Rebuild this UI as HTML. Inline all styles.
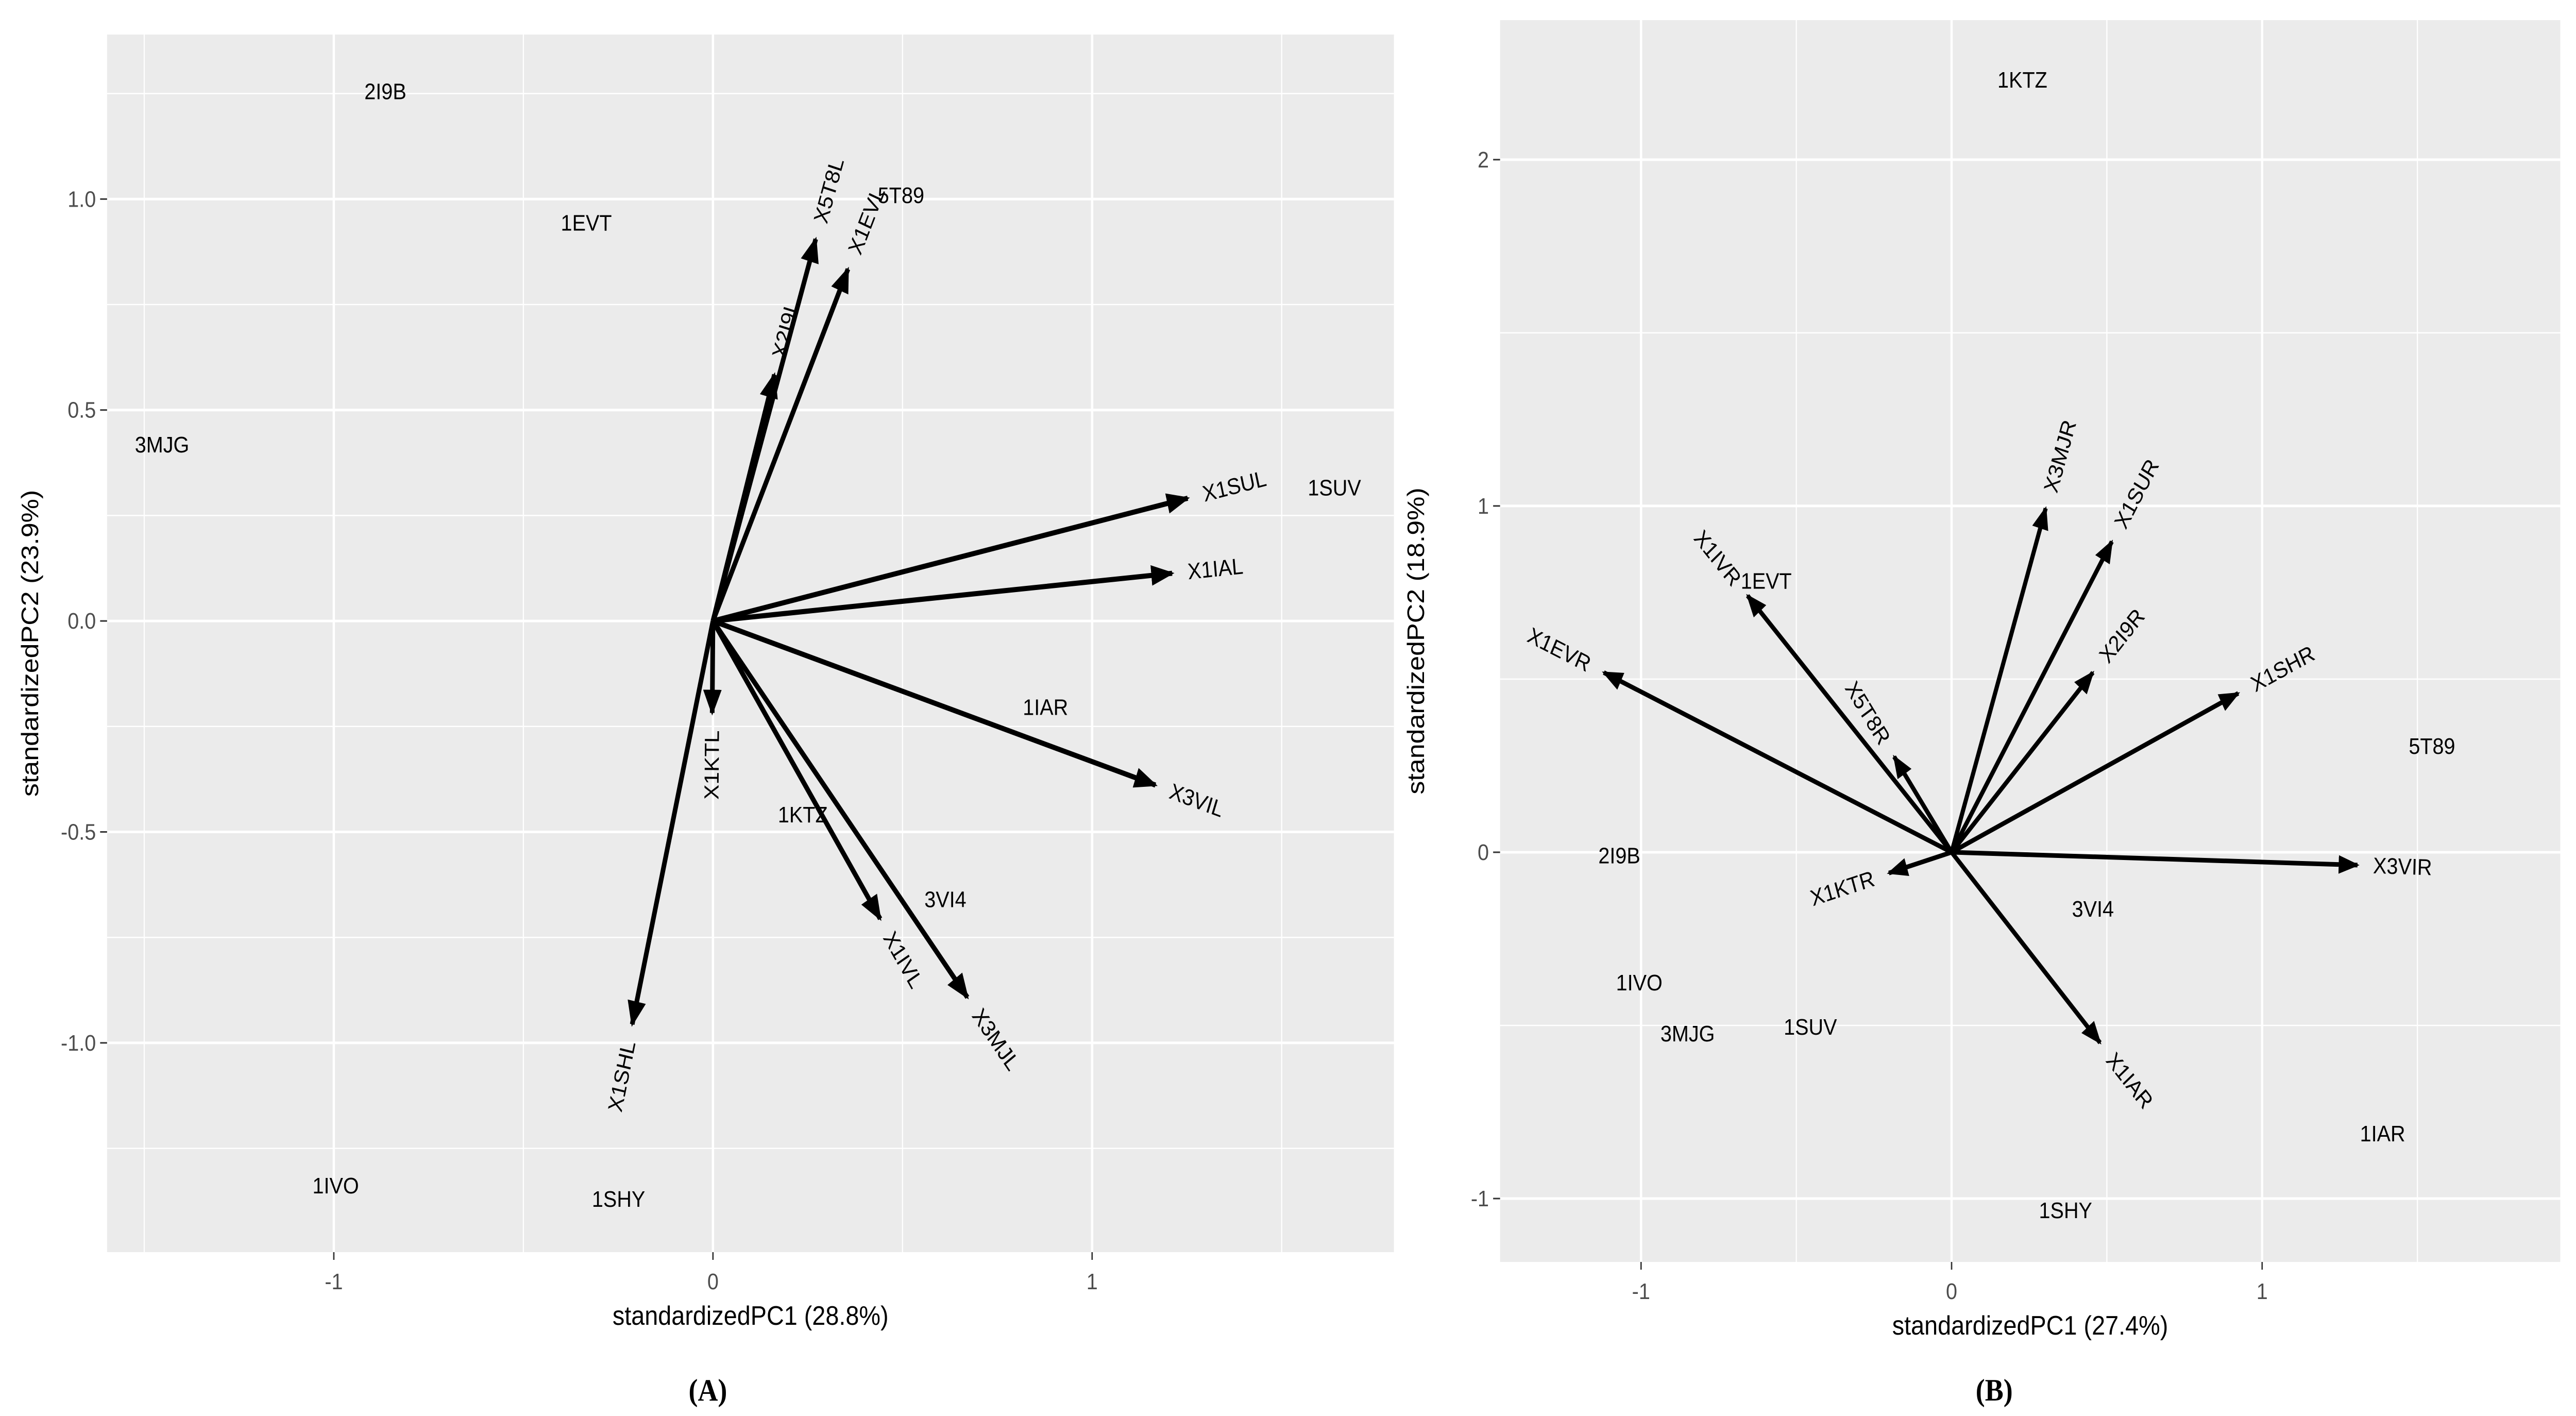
<!DOCTYPE html>
<html><head><meta charset="utf-8"><style>
html,body{margin:0;padding:0;background:#fff;overflow:hidden;width:100%;height:100%;}
svg{display:block;font-family:"Liberation Sans",sans-serif;width:100vw;height:100vh;}
</style></head><body>
<svg id="svg" viewBox="0 0 5557 2748" preserveAspectRatio="none" xmlns="http://www.w3.org/2000/svg">
<defs>
<marker id="ah" markerWidth="5" markerHeight="4" refX="4.5" refY="2" orient="auto" markerUnits="strokeWidth"><path d="M0,0 L5,2 L0,4 Z" fill="#000"/></marker>
</defs>
</svg>
<script>
// Panel A data
const aVarNames = ["X5T8L","X1EVL","X2I9L","X1SUL","X1IAL","X3VIL","X1KTL","X1IVL","X3MJL","X1SHL"];
const aVarX = [0.271,0.356,0.162,1.252,1.211,1.167,-0.002,0.441,0.671,-0.213];
const aVarY = [0.905,0.834,0.584,0.291,0.113,-0.389,-0.218,-0.706,-0.892,-0.956];
const aObsNames = ["2I9B","1EVT","5T89","3MJG","1SUV","1IAR","1KTZ","3VI4","1IVO","1SHY"];
const aObsX = [-0.864,-0.334,0.496,-1.453,1.639,0.877,0.237,0.613,-0.995,-0.249];
const aObsY = [1.256,0.945,1.01,0.419,0.317,-0.203,-0.458,-0.659,-1.337,-1.369];
const aXTicks = [-1,0,1];
const aYTicks = [-1.0,-0.5,0.0,0.5,1.0];
const aYTickLabels = ["-1.0","-0.5","0.0","0.5","1.0"];
// Panel B data
const bVarNames = ["X3MJR","X1SUR","X2I9R","X1SHR","X3VIR","X1IAR","X1KTR","X1EVR","X1IVR","X5T8R"];
const bVarX = [0.303,0.516,0.455,0.923,1.307,0.478,-0.202,-1.12,-0.657,-0.185];
const bVarY = [0.993,0.897,0.519,0.459,-0.037,-0.55,-0.06,0.519,0.741,0.276];
const bObsNames = ["1KTZ","1EVT","5T89","2I9B","3VI4","1IVO","3MJG","1SUV","1IAR","1SHY"];
const bObsX = [0.228,-0.597,1.547,-1.07,0.455,-1.006,-0.85,-0.455,1.388,0.367];
const bObsY = [2.232,0.785,0.308,-0.008,-0.162,-0.375,-0.522,-0.503,-0.811,-1.033];
const bXTicks = [-1,0,1];
const bYTicks = [-1,0,1,2];
const bYTickLabels = ["-1","0","1","2"];

const NS="http://www.w3.org/2000/svg";
const svg=document.getElementById('svg');
function mk(tag,attrs,parent){const e=document.createElementNS(NS,tag);for(const k in attrs)e.setAttribute(k,attrs[k]);(parent||svg).appendChild(e);return e;}

function panel(cfg){
  const g=mk('g',{});
  
  
  const sx=v=>cfg.x0+(v-cfg.xmin)/(cfg.xmax-cfg.xmin)*(cfg.x1-cfg.x0);
  const sy=v=>cfg.y1-(v-cfg.ymin)/(cfg.ymax-cfg.ymin)*(cfg.y1-cfg.y0);
  const bg=mk('rect',{x:cfg.x0,y:cfg.y0,width:cfg.x1-cfg.x0,height:cfg.y1-cfg.y0,fill:'#EBEBEB'},g);
  
  
  const xs=cfg.xTicks, ys=cfg.yTicks;
  const xstep=xs[1]-xs[0], ystep=ys[1]-ys[0];
  for(let v=Math.ceil(cfg.xmin/xstep)*xstep-xstep/2; v<cfg.xmax; v+=xstep){ if(v>cfg.xmin) mk('line',{x1:sx(v),x2:sx(v),y1:cfg.y0,y2:cfg.y1,stroke:'#fff','stroke-width':2.5},g);}
  for(let v=Math.ceil(cfg.ymin/ystep)*ystep-ystep/2; v<cfg.ymax; v+=ystep){ if(v>cfg.ymin) mk('line',{y1:sy(v),y2:sy(v),x1:cfg.x0,x2:cfg.x1,stroke:'#fff','stroke-width':2.5},g);}
  xs.forEach(v=>{
    mk('line',{x1:sx(v),x2:sx(v),y1:cfg.y0,y2:cfg.y1,stroke:'#fff','stroke-width':5},g);
    mk('line',{x1:sx(v),x2:sx(v),y1:cfg.y1,y2:cfg.y1+15,stroke:'#333','stroke-width':3},g);
    const t=mk('text',{x:sx(v),y:cfg.y1+72,'font-size':44,fill:'#4D4D4D','text-anchor':'middle'},g);
    t.textContent=String(v);
    
    
  });
  ys.forEach((v,i)=>{
    mk('line',{y1:sy(v),y2:sy(v),x1:cfg.x0,x2:cfg.x1,stroke:'#fff','stroke-width':5},g);
    mk('line',{y1:sy(v),y2:sy(v),x1:cfg.x0-15,x2:cfg.x0,stroke:'#333','stroke-width':3},g);
    const t=mk('text',{x:cfg.x0-24,y:sy(v)+15,'font-size':44,fill:'#4D4D4D','text-anchor':'end'},g);
    t.textContent=cfg.yTickLabels[i];
    
    
  });
  cfg.obsNames.forEach((n,i)=>{
    const t=mk('text',{x:sx(cfg.obsX[i]),y:sy(cfg.obsY[i])+16,'font-size':44,fill:'#000','text-anchor':'middle'},g);
    t.textContent=n;
    
    
  });
  cfg.varNames.forEach((n,i)=>{
    const vx=cfg.varX[i], vy=cfg.varY[i];
    const a=mk('line',{x1:sx(0),y1:sy(0),x2:sx(vx),y2:sy(vy),stroke:'#000','stroke-width':cfg.lw,'marker-end':'url(#ah)'},g);
    
    
    const ang=Math.atan(vy/vx)*180/Math.PI;
    const px=sx(vx), py=sy(vy);
    const t=mk('text',{'font-size':44,fill:'#000'},g);
    t.textContent=n;
    
    
    const w=n.length*27;
    const pos=vx>=0;
    t.setAttribute('text-anchor',pos?'start':'end');
    t.setAttribute('x',pos?0.25*w:-0.25*w);
    t.setAttribute('y',15);
    t.setAttribute('transform','translate('+px+','+py+') rotate('+(-ang)+')');
  });
  const xt=mk('text',{x:(cfg.x0+cfg.x1)/2,y:cfg.y1+141,'font-size':52,fill:'#000','text-anchor':'middle'},g);
  xt.textContent=cfg.xTitle;
  
  
  const yc=(cfg.y0+cfg.y1)/2;
  const yt=mk('text',{x:0,y:0,'font-size':52,fill:'#000','text-anchor':'middle',transform:'translate('+cfg.ytx+','+yc+') rotate(-90)'},g);
  yt.textContent=cfg.yTitle;
  
  
  const cap=mk('text',{x:cfg.capX,y:2718,'font-size':60,'font-weight':'bold','font-family':'"Liberation Serif",serif',fill:'#000','text-anchor':'middle'},g);
  cap.textContent=cfg.caption;
  
  
}
panel({id:'panel-a',x0:231,x1:3007,y0:67,y1:2430,xmin:-1.598,xmax:1.796,ymin:-1.496,ymax:1.39,
  xTicks:aXTicks,yTicks:aYTicks,yTickLabels:aYTickLabels,varNames:aVarNames,varX:aVarX,varY:aVarY,
  obsNames:aObsNames,obsX:aObsX,obsY:aObsY,lw:10,xTitle:'standardizedPC1 (28.8%)',yTitle:'standardizedPC2 (23.9%)',ytx:82,capX:1527,caption:'(A)'});
panel({id:'panel-b',x0:3236,x1:5523,y0:39,y1:2449,xmin:-1.454,xmax:1.96,ymin:-1.183,ymax:2.403,
  xTicks:bXTicks,yTicks:bYTicks,yTickLabels:bYTickLabels,varNames:bVarNames,varX:bVarX,varY:bVarY,
  obsNames:bObsNames,obsX:bObsX,obsY:bObsY,lw:9,xTitle:'standardizedPC1 (27.4%)',yTitle:'standardizedPC2 (18.9%)',ytx:3072,capX:4302,caption:'(B)'});
</script>
</body></html>
